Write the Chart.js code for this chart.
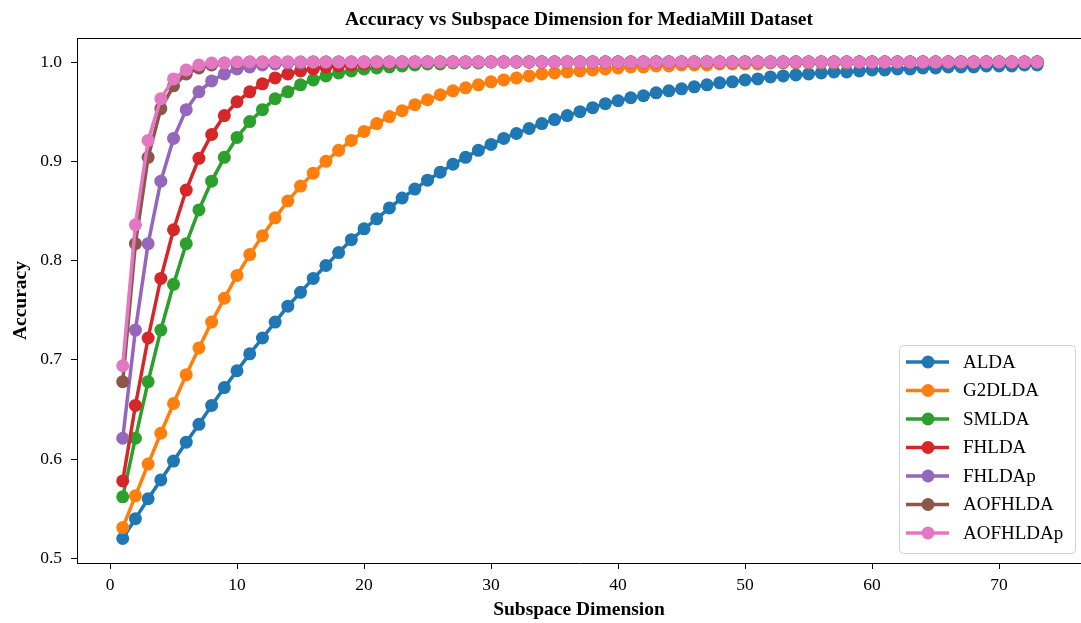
<!DOCTYPE html>
<html>
<head>
<meta charset="utf-8">
<title>Accuracy vs Subspace Dimension</title>
<script src="https://cdn.jsdelivr.net/npm/chart.js@4.4.1/dist/chart.umd.min.js"></script>
<style>
    html, body { margin: 0; padding: 0; background: #fff; }
    #wrap { width: 1081px; height: 623px; }
</style>
</head>
<body>
<div id="wrap"><canvas id="accChart" width="1081" height="623"></canvas></div>
<script>
// subspace dimensions on the x axis
const dims = [
    1, 2, 3, 4, 5, 6, 7, 8, 9, 10,
    11, 12, 13, 14, 15, 16, 17, 18, 19, 20,
    21, 22, 23, 24, 25, 26, 27, 28, 29, 30,
    31, 32, 33, 34, 35, 36, 37, 38, 39, 40,
    41, 42, 43, 44, 45, 46, 47, 48, 49, 50,
    51, 52, 53, 54, 55, 56, 57, 58, 59, 60,
    61, 62, 63, 64, 65, 66, 67, 68, 69, 70,
    71, 72, 73
];

const xTickValues = [0, 10, 20, 30, 40, 50, 60, 70];
const yTickValues = [0.5, 0.6, 0.7, 0.8, 0.9, 1.0];

const methodNames = ['ALDA', 'G2DLDA', 'SMLDA', 'FHLDA', 'FHLDAp', 'AOFHLDA', 'AOFHLDAp'];
const methodColors = ['#1f77b4', '#ff7f0e', '#2ca02c', '#d62728', '#9467bd', '#8c564b', '#e377c2'];

const aldaAcc = [
    0.520, 0.540, 0.560, 0.579, 0.598, 0.617, 0.635, 0.654, 0.672, 0.689,
    0.706, 0.722, 0.738, 0.754, 0.768, 0.782, 0.795, 0.808, 0.821, 0.832,
    0.842, 0.853, 0.863, 0.872, 0.881, 0.889, 0.897, 0.904, 0.911, 0.917,
    0.923, 0.928, 0.933, 0.938, 0.942, 0.946, 0.950, 0.954, 0.958, 0.961,
    0.964, 0.966, 0.969, 0.971, 0.973, 0.975, 0.977, 0.979, 0.980, 0.982,
    0.983, 0.985, 0.986, 0.987, 0.988, 0.989, 0.990, 0.990, 0.991, 0.992,
    0.992, 0.993, 0.993, 0.994, 0.994, 0.995, 0.995, 0.995, 0.996, 0.996,
    0.996, 0.997, 0.997
];

const g2dldaAcc = [
    0.531, 0.563, 0.595, 0.626, 0.656, 0.685, 0.712, 0.738, 0.762, 0.785,
    0.806, 0.825, 0.843, 0.860, 0.875, 0.888, 0.900, 0.911, 0.921, 0.930,
    0.938, 0.945, 0.951, 0.957, 0.962, 0.967, 0.971, 0.974, 0.977, 0.980,
    0.982, 0.984, 0.986, 0.988, 0.989, 0.990, 0.991, 0.992, 0.993, 0.994,
    0.995, 0.995, 0.996, 0.996, 0.997, 0.997, 0.997, 0.998, 0.998, 0.998,
    0.998, 0.999, 0.999, 0.999, 0.999, 0.999, 0.999, 0.999, 1.000, 1.000,
    1.000, 1.000, 1.000, 1.000, 1.000, 1.000, 1.000, 1.000, 1.000, 1.000,
    1.000, 1.000, 1.000
];

const smldaAcc = [
    0.562, 0.621, 0.678, 0.730, 0.776, 0.817, 0.851, 0.880, 0.904, 0.924,
    0.940, 0.952, 0.963, 0.970, 0.977, 0.982, 0.986, 0.989, 0.991, 0.993,
    0.994, 0.995, 0.996, 0.997, 0.998, 0.998, 0.999, 0.999, 0.999, 1.000,
    1.000, 1.000, 1.000, 1.000, 1.000, 1.000, 1.000, 1.000, 1.000, 1.000,
    1.000, 1.000, 1.000, 1.000, 1.000, 1.000, 1.000, 1.000, 1.000, 1.000,
    1.000, 1.000, 1.000, 1.000, 1.000, 1.000, 1.000, 1.000, 1.000, 1.000,
    1.000, 1.000, 1.000, 1.000, 1.000, 1.000, 1.000, 1.000, 1.000, 1.000,
    1.000, 1.000, 1.000
];

const fhldaAcc = [
    0.578, 0.654, 0.722, 0.782, 0.831, 0.871, 0.903, 0.927, 0.946, 0.960,
    0.970, 0.978, 0.984, 0.988, 0.991, 0.993, 0.995, 0.996, 0.997, 0.998,
    0.999, 0.999, 1.000, 1.000, 1.000, 1.000, 1.000, 1.000, 1.000, 1.000,
    1.000, 1.000, 1.000, 1.000, 1.000, 1.000, 1.000, 1.000, 1.000, 1.000,
    1.000, 1.000, 1.000, 1.000, 1.000, 1.000, 1.000, 1.000, 1.000, 1.000,
    1.000, 1.000, 1.000, 1.000, 1.000, 1.000, 1.000, 1.000, 1.000, 1.000,
    1.000, 1.000, 1.000, 1.000, 1.000, 1.000, 1.000, 1.000, 1.000, 1.000,
    1.000, 1.000, 1.000
];

const fhldapAcc = [
    0.621, 0.730, 0.817, 0.880, 0.923, 0.952, 0.970, 0.981, 0.988, 0.993,
    0.995, 0.997, 0.998, 0.999, 0.999, 1.000, 1.000, 1.000, 1.000, 1.000,
    1.000, 1.000, 1.000, 1.000, 1.000, 1.000, 1.000, 1.000, 1.000, 1.000,
    1.000, 1.000, 1.000, 1.000, 1.000, 1.000, 1.000, 1.000, 1.000, 1.000,
    1.000, 1.000, 1.000, 1.000, 1.000, 1.000, 1.000, 1.000, 1.000, 1.000,
    1.000, 1.000, 1.000, 1.000, 1.000, 1.000, 1.000, 1.000, 1.000, 1.000,
    1.000, 1.000, 1.000, 1.000, 1.000, 1.000, 1.000, 1.000, 1.000, 1.000,
    1.000, 1.000, 1.000
];

const aofhldaAcc = [
    0.678, 0.817, 0.904, 0.953, 0.976, 0.988, 0.994, 0.997, 0.999, 0.999,
    1.000, 1.000, 1.000, 1.000, 1.000, 1.000, 1.000, 1.000, 1.000, 1.000,
    1.000, 1.000, 1.000, 1.000, 1.000, 1.000, 1.000, 1.000, 1.000, 1.000,
    1.000, 1.000, 1.000, 1.000, 1.000, 1.000, 1.000, 1.000, 1.000, 1.000,
    1.000, 1.000, 1.000, 1.000, 1.000, 1.000, 1.000, 1.000, 1.000, 1.000,
    1.000, 1.000, 1.000, 1.000, 1.000, 1.000, 1.000, 1.000, 1.000, 1.000,
    1.000, 1.000, 1.000, 1.000, 1.000, 1.000, 1.000, 1.000, 1.000, 1.000,
    1.000, 1.000, 1.000
];

const aofhldapAcc = [
    0.694, 0.836, 0.921, 0.963, 0.983, 0.992, 0.997, 0.999, 0.999, 1.000,
    1.000, 1.000, 1.000, 1.000, 1.000, 1.000, 1.000, 1.000, 1.000, 1.000,
    1.000, 1.000, 1.000, 1.000, 1.000, 1.000, 1.000, 1.000, 1.000, 1.000,
    1.000, 1.000, 1.000, 1.000, 1.000, 1.000, 1.000, 1.000, 1.000, 1.000,
    1.000, 1.000, 1.000, 1.000, 1.000, 1.000, 1.000, 1.000, 1.000, 1.000,
    1.000, 1.000, 1.000, 1.000, 1.000, 1.000, 1.000, 1.000, 1.000, 1.000,
    1.000, 1.000, 1.000, 1.000, 1.000, 1.000, 1.000, 1.000, 1.000, 1.000,
    1.000, 1.000, 1.000
];

const allAcc = [aldaAcc, g2dldaAcc, smldaAcc, fhldaAcc, fhldapAcc, aofhldaAcc, aofhldapAcc];

const serif = '"Liberation Serif", "Times New Roman", "DejaVu Serif", serif';

// top spine; the right spine falls just past the canvas edge
const frameLines = {
    id: 'frameLines',
    afterDatasetsDraw(chart) {
        const { ctx, chartArea: a } = chart;
        ctx.save();
        ctx.strokeStyle = '#000';
        ctx.lineWidth = 1;
        ctx.beginPath();
        ctx.moveTo(a.left, a.top + 0.5);
        ctx.lineTo(a.right, a.top + 0.5);
        ctx.stroke();
        ctx.restore();
    }
};

// legend drawn inside the plot, lower right, line + marker per series
const insideLegend = {
    id: 'insideLegend',
    afterDraw(chart) {
        const { ctx, chartArea: a } = chart;
        const sets = chart.data.datasets;
        const boxW = 176, rowH = 28.5, padTop = 17, padBottom = 20;
        const boxH = padTop + rowH * (sets.length - 1) + padBottom;
        const x0 = a.right - 6 - boxW;
        const y0 = a.bottom - 10 - boxH;

        ctx.save();
        ctx.beginPath();
        ctx.roundRect(x0 + 0.5, y0 + 0.5, boxW, boxH, 4);
        ctx.fillStyle = 'rgba(255,255,255,0.8)';
        ctx.fill();
        ctx.strokeStyle = '#d3d3d3';
        ctx.lineWidth = 1;
        ctx.stroke();

        ctx.font = '19px ' + serif;
        ctx.textBaseline = 'middle';
        ctx.textAlign = 'left';
        sets.forEach((ds, i) => {
            const y = y0 + padTop + i * rowH;
            ctx.strokeStyle = ds.borderColor;
            ctx.lineWidth = 3.5;
            ctx.beginPath();
            ctx.moveTo(x0 + 7, y);
            ctx.lineTo(x0 + 50, y);
            ctx.stroke();
            ctx.fillStyle = ds.borderColor;
            ctx.beginPath();
            ctx.arc(x0 + 29, y, 6.5, 0, Math.PI * 2);
            ctx.fill();
            ctx.fillStyle = '#000';
            ctx.fillText(ds.label, x0 + 64, y + 1);
        });
        ctx.restore();
    }
};

const datasets = methodNames.map((name, i) => ({
    label: name,
    data: dims.map((d, j) => ({ x: d, y: allAcc[i][j] })),
    borderColor: methodColors[i],
    backgroundColor: methodColors[i],
    borderWidth: 3.5,
    pointRadius: 6.5,
    pointBorderWidth: 0,
    pointHoverRadius: 6.5,
    tension: 0,
    // later series sit on top
    order: methodNames.length - i
}));

new Chart(document.getElementById('accChart'), {
    type: 'line',
    data: { datasets },
    options: {
        responsive: false,
        animation: false,
        events: [],
        layout: { autoPadding: false, padding: { top: 0, right: 0, bottom: 0, left: 0 } },
        plugins: {
            legend: { display: false },
            tooltip: { enabled: false },
            title: {
                display: true,
                fullSize: false,
                text: 'Accuracy vs Subspace Dimension for MediaMill Dataset',
                color: '#000',
                font: { family: serif, size: 19.5, weight: 'bold', lineHeight: 1.2 },
                padding: { top: 8.3, bottom: 6.3 }
            }
        },
        scales: {
            x: {
                type: 'linear',
                min: -2.6,
                max: 76.45,
                afterBuildTicks: (s) => { s.ticks = xTickValues.map(v => ({ value: v })); },
                afterFit: (s) => { s.height = 60; },
                ticks: {
                    color: '#000',
                    font: { family: serif, size: 17.5 },
                    padding: 6,
                    maxRotation: 0,
                    autoSkip: false
                },
                grid: { drawOnChartArea: false, tickLength: 6, tickColor: '#000', tickWidth: 1 },
                border: { color: '#000', width: 1 },
                title: {
                    display: true,
                    text: 'Subspace Dimension',
                    color: '#000',
                    font: { family: serif, size: 19.5, weight: 'bold', lineHeight: 1.2 },
                    padding: { top: 0, bottom: 1.3 }
                }
            },
            y: {
                type: 'linear',
                min: 0.4953,
                max: 1.0242,
                afterBuildTicks: (s) => { s.ticks = yTickValues.map(v => ({ value: v })); },
                afterFit: (s) => { s.width = 77; },
                ticks: {
                    color: '#000',
                    font: { family: serif, size: 17.5 },
                    padding: 9,
                    callback: (v) => Number(v).toFixed(1)
                },
                grid: { drawOnChartArea: false, tickLength: 6, tickColor: '#000', tickWidth: 1 },
                border: { color: '#000', width: 1 },
                title: {
                    display: true,
                    text: 'Accuracy',
                    color: '#000',
                    font: { family: serif, size: 19.5, weight: 'bold', lineHeight: 1.2 },
                    padding: { top: 9, bottom: 0 }
                }
            }
        }
    },
    plugins: [frameLines, insideLegend]
});
</script>
</body>
</html>
